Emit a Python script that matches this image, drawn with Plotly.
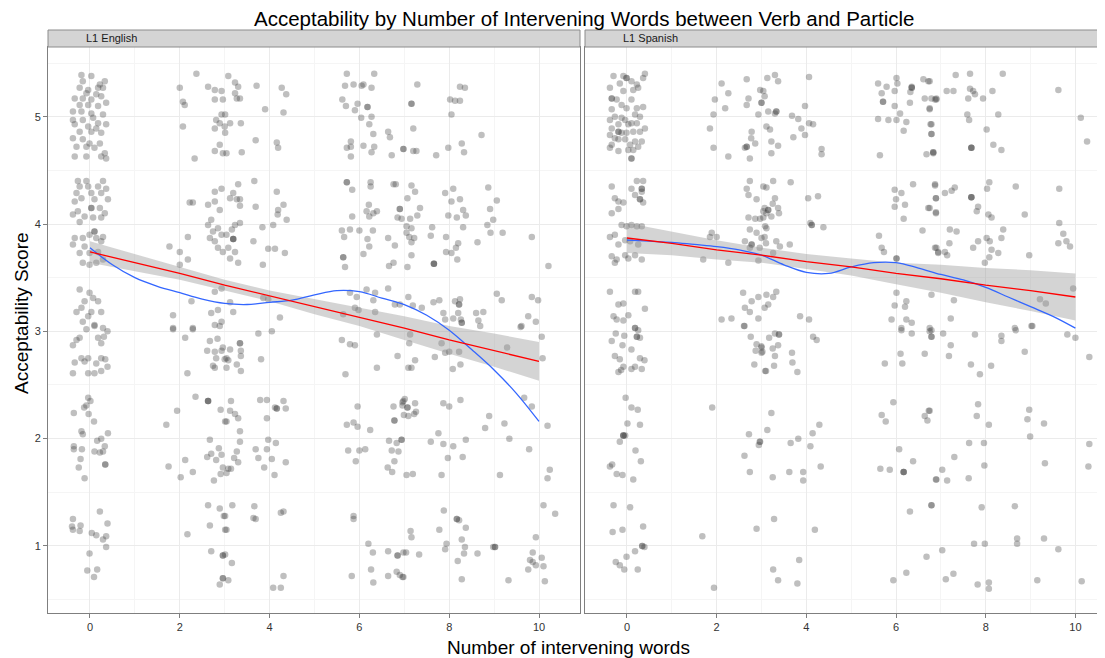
import plotly.graph_objects as go

# ---------------- data ----------------
eng_points = [
 (-0.19,5.39),(0.03,5.38),(-0.16,5.33),(0.33,5.33),(0.22,5.30),(-0.23,5.27),(-0.04,5.25),(0.18,5.27),(0.29,5.27),
 (-0.08,5.22),(0.14,5.21),(-0.34,5.17),(-0.16,5.17),(0.25,5.19),(0.03,5.16),(0.36,5.13),(-0.23,5.11),(-0.04,5.11),
 (0.18,5.10),(-0.38,5.05),(-0.19,5.05),(0.03,5.03),(0.29,5.02),(-0.38,4.97),(-0.16,4.97),(0.07,4.99),(0.18,4.94),
 (0.36,4.93),(-0.34,4.93),(-0.04,4.91),(0.14,4.89),(-0.23,4.86),(0.03,4.86),(0.25,4.85),(-0.38,4.80),(-0.16,4.79),
 (-0.01,4.75),(0.22,4.75),(-0.30,4.72),(-0.08,4.72),(0.10,4.71),(0.33,4.66),(-0.34,4.63),(-0.08,4.63),(0.25,4.63),(0.36,4.61),
 (-0.23,3.39),(-0.01,3.36),(0.07,3.31),(-0.12,3.28),(0.18,3.28),(-0.19,3.22),(0.03,3.18),(0.25,3.18),(-0.30,3.18),
 (-0.04,3.14),(-0.16,3.09),(0.10,3.06),(0.29,3.03),
 (-0.08,3.02),(0.10,3.05),(0.39,3.00),(-0.23,2.94),(-0.30,2.92),(0.18,2.94),(0.31,2.95),(-0.38,2.87),(0.25,2.89),
 (-0.19,2.75),(-0.04,2.75),(-0.12,2.72),(-0.34,2.71),(0.14,2.70),(0.25,2.75),(0.34,2.74),(0.39,2.67),(-0.38,2.61),
 (-0.04,2.61),(0.10,2.61),(0.25,2.63),
 (-0.04,2.38),(0.01,2.35),(-0.13,2.29),(-0.08,2.31),(-0.36,2.24),(-0.03,2.23),(0.09,2.16),(-0.19,2.07),(-0.16,2.04),
 (0.40,2.05),(0.25,2.00),(0.16,1.98),(-0.36,1.93),(-0.36,1.90),(-0.18,1.90),(0.10,1.88),(0.22,1.87),(0.33,1.93),
 (0.29,1.88),(-0.21,1.81),(0.34,1.76),(0.34,1.76),(-0.25,1.73),(-0.12,1.63),
 (0.22,1.32),(-0.38,1.25),(-0.40,1.18),(-0.21,1.19),(-0.38,1.15),(-0.23,1.14),(0.04,1.12),(0.14,1.10),(0.39,1.21),
 (0.36,1.09),(0.29,1.06),(0.36,0.99),(-0.01,0.93),(-0.06,0.77),(0.16,0.78),(0.09,0.71),
 (-0.27,4.40),(-0.08,4.40),(0.29,4.40),(-0.23,4.35),(-0.04,4.35),(0.18,4.35),(0.36,4.33),(-0.30,4.29),(0.03,4.29),
 (0.25,4.29),(-0.19,4.24),(0.40,4.23),(-0.34,4.21),(0.10,4.23),(0.03,4.15),(0.03,4.15),(0.22,4.15),(-0.27,4.12),
 (0.33,4.10),(-0.38,4.09),(-0.12,4.07),(0.07,4.06),(0.25,4.06),(-0.23,4.02),(0.10,3.93),(0.10,3.93),(-0.01,3.90),
 (0.29,3.88),(-0.34,3.87),(-0.16,3.87),(0.14,3.87),(-0.38,3.81),(-0.12,3.79),(0.25,3.84),(-0.23,3.73),(-0.01,3.73),
 (0.18,3.74),(0.29,3.67),(-0.16,3.64),(0.14,3.64),(-0.01,3.62),
 (2.37,5.40),(2.00,5.27),(2.63,5.28),(2.78,5.25),(2.93,5.24),(2.07,5.14),(2.11,5.11),(2.78,5.16),(2.96,5.16),
 (2.93,5.02),(2.81,4.97),(2.89,4.94),(2.07,4.91),(2.78,4.89),(3.00,4.91),(2.89,4.74),(2.33,4.61),(2.78,4.68),
 (2.96,4.66),(2.93,4.33),(2.78,4.30),(2.29,4.20),(2.22,4.20),(2.63,4.18),(2.78,4.21),(2.89,4.13),(2.70,4.04),
 (2.63,3.99),(2.85,3.96),(2.74,3.93),(2.93,3.90),(2.67,3.87),(2.78,3.84),(2.18,3.88),(2.85,3.78),(2.96,3.74),
 (1.77,3.79),(2.00,3.74),(2.18,3.67),(2.00,3.62),(2.78,3.37),(2.93,3.40),(2.26,3.28),(2.85,3.20),(2.70,3.17),
 (1.85,3.15),(2.93,3.09),(2.78,3.06),(2.29,3.03),(1.85,3.03),
 (3.08,5.38),(3.23,5.32),(3.30,5.28),(3.71,5.29),(3.23,5.22),(3.34,5.17),(3.27,5.17),(4.27,5.27),(4.37,5.21),
 (3.90,5.07),(4.31,5.04),(3.01,5.02),(3.12,4.94),(3.36,4.94),(3.01,4.85),(3.69,4.78),(4.16,4.76),(4.19,4.71),
 (3.38,4.67),(3.04,4.66),(3.30,4.37),(3.66,4.40),(4.16,4.30),(3.19,4.29),(3.12,4.24),(3.27,4.23),(3.34,4.23),
 (3.34,4.17),(3.69,4.16),(4.31,4.18),(4.19,4.13),(4.18,4.09),(4.38,4.04),(3.34,4.01),(3.23,3.99),(3.16,3.95),
 (3.19,3.86),(3.19,3.86),(3.19,3.86),(3.84,3.97),(4.08,3.99),(3.04,3.90),(3.64,3.84),(3.97,3.77),(4.12,3.77),
 (4.34,3.73),(3.08,3.78),(3.23,3.74),(3.12,3.68),(3.30,3.64),(3.85,3.62),
 (5.72,5.40),(6.33,5.40),(5.68,5.29),(5.87,5.30),(6.05,5.29),(6.27,5.27),(6.09,5.30),(5.62,5.16),(5.70,5.10),
 (5.96,5.12),(6.18,5.09),(6.18,5.09),(5.90,5.06),(6.04,4.99),(6.27,5.00),(6.22,4.93),(6.31,4.84),(6.64,4.86),
 (6.68,4.81),(5.81,4.77),(5.72,4.71),(5.81,4.72),(6.09,4.73),(6.33,4.72),(6.27,4.67),(5.81,4.63),(6.72,4.64),
 (6.98,4.70),(5.72,4.39),(5.72,4.39),(5.84,4.32),(6.25,4.39),(6.25,4.35),(6.76,4.37),(6.81,4.37),(6.21,4.18),
 (6.16,4.12),(6.31,4.10),(6.39,4.12),(6.22,4.07),(5.84,4.07),(6.90,4.14),(6.85,4.06),(5.61,3.94),(5.79,3.95),
 (6.00,3.94),(6.30,3.94),(5.66,3.88),(6.18,3.86),(6.22,3.79),(6.64,3.87),(6.79,3.80),(5.64,3.69),(5.64,3.69),
 (6.09,3.72),(5.68,3.60),(6.66,3.61),(6.76,3.64),
 (5.79,3.36),(6.16,3.39),(6.35,3.36),(6.64,3.40),(5.94,3.32),(6.31,3.29),(5.90,3.22),(5.98,3.20),(6.35,3.18),
 (6.79,3.25),(6.90,3.25),(5.64,3.16),(4.23,3.13),(3.86,3.31),(3.97,3.30),(3.19,3.18),(3.12,3.27),
 (7.29,5.30),(8.24,5.28),(8.35,5.27),(7.16,5.12),(7.16,5.12),(8.02,5.16),(8.13,5.15),(8.24,5.15),(8.05,5.02),
 (7.20,4.89),(8.72,4.83),(6.98,4.70),(7.20,4.68),(7.27,4.68),(7.71,4.64),(7.98,4.71),(8.28,4.75),(8.33,4.67),
 (7.16,4.36),(7.24,4.30),(7.91,4.29),(8.09,4.33),(8.87,4.34),(7.07,4.24),(8.05,4.21),(8.24,4.23),(9.06,4.22),
 (6.90,4.14),(7.35,4.15),(8.31,4.13),(8.91,4.14),(6.94,4.05),(7.13,4.05),(7.29,4.08),(7.98,4.08),(8.17,4.06),
 (8.37,4.08),(8.98,4.04),(7.05,3.98),(7.16,3.96),(7.62,3.97),(8.31,3.97),(8.85,3.99),(7.05,3.92),(7.22,3.87),
 (7.11,3.88),(7.16,3.83),(7.59,3.89),(7.93,3.88),(8.92,3.92),(9.19,3.92),(9.84,3.88),(8.63,3.83),(8.20,3.82),
 (8.15,3.78),(7.93,3.74),(8.05,3.73),(8.18,3.67),(7.16,3.71),(7.07,3.60),(7.66,3.63),(7.66,3.63),(7.66,3.63),(10.21,3.61),
 (7.09,3.32),(7.19,3.24),(7.39,3.22),(7.65,3.27),(7.78,3.29),(8.13,3.28),(8.24,3.30),(8.22,3.25),(8.22,3.25),
 (9.06,3.35),(9.17,3.29),(9.84,3.32),(9.98,3.29),(7.87,3.17),(8.20,3.17),(8.60,3.17),(8.76,3.18),(9.76,3.14),
 (9.93,3.09),(7.91,3.11),(8.09,3.12),(8.26,3.11),(8.28,3.08),(8.28,3.08),(8.65,3.10),(9.61,3.05),
 (1.85,3.02),(2.29,3.02),(2.89,3.05),(2.12,2.94),(2.67,2.91),(2.84,2.93),(2.61,2.82),(2.78,2.81),(2.96,2.85),
 (2.81,2.75),(3.00,2.74),(2.93,2.82),(2.74,2.68),(2.17,2.61),(2.78,2.66),
 (2.35,2.39),(2.63,2.35),(2.63,2.35),(2.63,2.35),(1.94,2.26),(2.91,2.27),(1.70,2.13),(3.01,2.16),(2.67,1.99),
 (2.87,1.91),(2.61,1.83),(2.70,1.86),(2.81,1.80),(2.93,1.85),(2.12,1.80),(1.75,1.74),(2.29,1.69),(2.02,1.64),
 (2.96,1.73),(2.91,1.67),(2.76,1.61),
 (2.63,1.38),(2.89,1.35),(2.98,1.28),(2.67,1.19),(3.01,1.15),(2.17,1.11),(2.70,0.95),(2.96,0.91),(2.96,0.91),
 (2.96,0.70),(2.96,0.70),(2.89,0.64),
 (3.75,2.98),(4.05,3.00),(3.34,2.89),(3.34,2.89),(3.12,2.83),(3.36,2.82),(3.36,2.77),(3.04,2.75),(3.08,2.73),
 (3.81,2.74),(3.27,2.69),(3.36,2.63),(3.04,2.66),(5.61,2.92),(5.79,2.88),(5.90,2.87),(6.39,2.97),(5.69,2.60),
 (6.39,2.66),(6.85,2.77),
 (3.14,2.35),(3.79,2.36),(3.94,2.36),(4.12,2.29),(4.16,2.28),(4.16,2.28),(4.31,2.35),(4.36,2.28),(3.12,2.26),
 (3.23,2.23),(3.30,2.19),(3.04,2.16),(3.94,2.19),(3.34,2.07),(3.34,1.97),(3.97,1.99),(4.14,1.96),(3.69,1.90),
 (3.94,1.90),(3.27,1.88),(3.75,1.82),(3.21,1.82),(3.30,1.78),(4.05,1.81),(4.36,1.78),(3.08,1.72),(3.14,1.72),
 (3.04,1.68),(3.88,1.73),(4.11,1.66),
 (5.96,2.30),(6.76,2.30),(6.78,2.17),(6.78,2.17),(6.98,2.35),(6.96,2.31),(5.87,2.15),(5.72,2.13),(5.96,2.11),
 (6.24,2.08),(6.66,1.98),(6.83,1.96),(6.94,1.99),(5.75,1.89),(5.92,1.79),(6.00,1.89),(6.13,1.90),(6.72,1.89),
 (6.87,1.88),(6.78,1.79),(6.63,1.73),(6.73,1.69),
 (3.17,1.38),(3.01,1.28),(3.66,1.37),(3.64,1.26),(3.69,1.25),(4.25,1.31),(4.31,1.32),(3.04,1.15),(5.87,1.28),
 (5.87,1.25),(6.20,1.02),(6.30,0.94),(6.64,0.95),(6.85,0.91),(6.85,0.91),(6.98,0.94),(3.01,0.92),(3.16,0.84),
 (6.26,0.78),(6.64,0.72),(6.83,0.76),(6.90,0.73),(6.98,0.71),(5.83,0.72),(6.31,0.66),(4.31,0.72),(4.08,0.61),
 (4.25,0.61),(3.08,0.68),
 (7.13,2.97),(7.11,2.89),(7.24,2.73),(7.09,2.66),(7.16,2.66),(7.68,2.76),(7.83,2.89),(7.91,2.80),(8.00,2.81),
 (8.22,2.81),(8.25,2.69),(8.08,2.65),(8.69,3.05),(9.59,3.04),(9.29,2.85),(10.06,2.95),(10.08,2.75),
 (7.01,2.37),(6.96,2.34),(7.07,2.29),(7.07,2.29),(7.24,2.33),(7.26,2.25),(7.22,2.23),(6.99,2.22),(7.09,2.21),
 (7.87,2.33),(8.00,2.30),(8.25,2.36),(9.67,2.38),(9.84,2.30),(8.89,2.21),(9.23,2.14),(8.80,2.10),(10.19,2.12),
 (6.94,1.99),(7.59,1.97),(7.87,1.95),(8.09,1.93),(8.37,1.99),(7.76,2.05),(9.34,2.00),(9.78,1.90),(7.97,1.82),
 (8.30,1.83),(7.05,1.66),(7.19,1.67),(7.83,1.66),(9.13,1.66),(10.24,1.71),(10.19,1.63),
 (10.10,1.38),(10.36,1.30),(7.88,1.33),(8.17,1.25),(8.17,1.25),(8.22,1.24),(8.37,1.17),(7.78,1.15),(7.14,1.14),
 (7.16,1.08),(7.94,1.02),(7.91,0.97),(8.28,1.06),(8.35,0.99),(8.33,0.93),(8.63,0.93),(8.98,0.99),(9.02,0.99),
 (9.02,0.99),(7.04,0.94),(7.33,0.92),(8.19,0.86),(9.93,1.08),(9.86,0.94),(9.80,0.87),(9.86,0.85),(9.93,0.82),
 (9.76,0.78),(10.06,0.89),(10.10,0.81),(8.28,0.69),(9.32,0.68),(10.13,0.67),(6.96,0.71),
]

spa_points = [
 (-0.30,5.38),(-0.08,5.38),(-0.01,5.36),(-0.01,5.36),(0.40,5.40),(0.36,5.36),(0.10,5.33),(-0.16,5.31),(0.22,5.30),
 (0.25,5.27),(0.14,5.25),(-0.38,5.27),(-0.08,5.24),(-0.34,5.17),(-0.34,5.17),(-0.23,5.16),(0.10,5.16),(-0.12,5.11),
 (-0.01,5.08),(0.22,5.08),(0.36,5.09),(-0.34,5.07),(0.18,5.02),(-0.27,5.00),(0.29,5.00),(-0.12,4.99),(-0.04,4.97),
 (-0.38,4.97),(0.10,4.94),(-0.19,4.93),(0.03,4.93),(0.22,4.94),(0.40,4.89),(-0.34,4.89),(-0.19,4.86),(-0.19,4.86),
 (-0.12,4.85),(-0.01,4.85),(0.14,4.86),(0.29,4.86),(-0.38,4.83),(-0.27,4.80),(-0.19,4.79),(-0.04,4.79),(0.18,4.77),
 (0.33,4.77),(-0.34,4.74),(0.07,4.74),(0.25,4.72),(-0.38,4.71),(-0.19,4.68),(0.03,4.69),(0.14,4.69),(0.10,4.61),(0.10,4.61),
 (-0.34,4.35),(0.10,4.33),(0.22,4.40),(0.36,4.40),(0.33,4.33),(0.33,4.33),(0.18,4.27),(0.33,4.30),(-0.27,4.24),
 (0.29,4.23),(0.29,4.23),(-0.19,4.21),(-0.08,4.20),(0.36,4.20),(-0.19,4.14),(-0.34,4.10),(-0.12,3.99),(-0.01,3.98),
 (0.10,3.99),(0.22,3.98),(0.33,3.98),(-0.38,3.88),(-0.27,3.90),(-0.04,3.85),(0.07,3.84),(-0.19,3.81),(0.25,3.81),
 (-0.34,3.70),(-0.04,3.71),(0.18,3.71),(0.33,3.67),(-0.23,3.67),(-0.27,3.64),(0.03,3.68),
 (-0.38,3.37),(0.18,3.37),(0.25,3.37),(-0.19,3.25),(-0.08,3.26),(0.40,3.21),(-0.30,3.14),(0.03,3.15),(-0.23,3.11),
 (-0.08,3.10),(0.18,3.03),
 (0.18,3.03),(0.25,3.01),(-0.25,2.98),(-0.06,2.96),(0.22,2.95),(0.22,2.95),(0.29,2.94),(-0.34,2.91),(-0.10,2.87),
 (0.10,2.83),(-0.27,2.77),(-0.16,2.74),(0.29,2.75),(0.39,2.73),(-0.08,2.67),(0.18,2.67),(0.10,2.65),(0.33,2.65),
 (-0.19,2.62),(-0.13,2.64),
 (-0.03,2.38),(0.10,2.29),(0.24,2.27),(0.01,2.14),(0.29,2.13),(-0.08,2.03),(-0.08,2.03),(-0.08,2.03),(-0.04,2.03),
 (-0.16,1.97),(0.19,1.89),(0.31,1.79),(-0.38,1.74),(-0.33,1.76),(-0.23,1.67),(-0.10,1.66),(0.14,1.62),
 (-0.30,1.38),(0.07,1.36),(0.36,1.18),(-0.32,1.13),(-0.10,1.15),(0.34,1.00),(0.34,1.00),(0.39,0.99),(0.18,0.95),
 (-0.01,0.90),(-0.25,0.85),(-0.16,0.82),(-0.06,0.78),(0.24,0.78),
 (1.90,2.29),(1.68,1.09),(1.94,0.61),
 (2.61,3.05),(2.76,2.95),(2.89,2.88),(3.00,2.85),(2.87,2.82),(3.00,2.80),(2.84,2.69),(3.08,2.63),(2.72,2.04),
 (2.97,1.97),(2.94,1.94),(2.62,1.84),(2.74,1.69),(2.89,1.16),
 (2.11,5.31),(2.26,5.22),(2.67,5.35),(2.97,5.25),(2.71,5.17),(3.00,5.13),(2.67,5.11),(1.96,5.16),(2.19,5.08),
 (1.93,5.02),(2.93,5.02),(1.85,4.89),(2.78,4.86),(2.77,4.80),(2.86,4.75),(2.67,4.72),(2.67,4.72),(2.63,4.71),
 (1.93,4.71),(2.26,4.63),(2.74,4.61),
 (2.74,4.40),(3.04,4.35),(2.67,4.33),(2.71,4.27),(2.89,4.23),(3.04,4.12),(2.71,4.06),(2.86,4.05),(2.97,4.05),
 (3.08,3.98),(2.74,3.95),(2.89,3.92),(2.63,3.84),(2.78,3.81),(2.78,3.81),(2.74,3.78),(3.00,3.87),(1.89,3.92),
 (1.85,3.88),(2.00,3.88),(1.70,3.67),(2.26,3.64),(2.93,3.66),
 (2.59,3.36),(2.78,3.28),(2.93,3.32),(2.63,3.22),(2.74,3.18),(2.93,3.12),(2.11,3.11),(2.33,3.12),(2.62,3.05),
 (3.13,5.36),(3.30,5.39),(3.37,5.33),(4.06,5.37),(3.04,5.24),(3.07,5.19),(3.00,5.13),(3.15,5.05),(3.30,5.03),
 (3.33,5.05),(3.33,5.05),(3.97,5.10),(3.68,5.01),(3.82,4.98),(4.06,4.94),(4.15,4.93),(3.89,4.89),(3.97,4.83),
 (3.71,4.81),(3.11,4.91),(3.19,4.88),(3.22,4.77),(3.37,4.73),(3.22,4.66),(4.34,4.70),(4.34,4.65),
 (3.26,4.40),(3.11,4.34),(3.65,4.39),(3.30,4.24),(3.25,4.19),(3.07,4.15),(3.15,4.13),(3.15,4.13),(3.37,4.15),
 (3.11,4.10),(3.39,4.10),(3.22,4.07),(3.04,4.06),(4.04,4.24),(4.26,4.26),(4.09,4.01),(4.12,3.99),(4.12,3.99),
 (4.38,3.97),(3.11,3.96),(3.07,3.88),(3.10,3.82),(3.33,3.84),(3.41,3.79),(3.63,3.81),(2.96,3.78),(3.26,3.73),
 (5.60,5.31),(5.79,5.28),(6.01,5.36),(6.03,5.31),(6.35,5.28),(6.35,5.27),(6.35,5.27),(5.68,5.22),(5.97,5.24),
 (6.32,5.23),(6.61,5.35),(6.72,5.33),(5.71,5.14),(5.71,5.14),(6.64,5.17),(6.79,5.17),(6.90,5.16),(5.97,5.10),
 (6.09,5.03),(6.31,5.13),(6.75,5.07),(5.60,4.98),(5.83,4.97),(6.01,4.97),(6.23,4.95),(6.17,4.87),(6.77,4.93),
 (6.79,4.84),(5.64,4.64),(6.68,4.65),(6.83,4.67),(6.83,4.67),
 (5.97,4.32),(6.12,4.29),(6.00,4.23),(6.20,4.18),(5.97,4.16),(6.38,4.37),(6.87,4.37),(6.89,4.24),(6.72,4.15),
 (6.89,4.10),(6.17,4.05),(6.59,3.94),(5.62,3.89),(5.68,3.78),(5.73,3.74),(6.01,3.68),(6.01,3.68),(6.90,3.78),(6.94,3.73),
 (6.01,3.36),(6.23,3.28),(5.97,3.24),(6.20,3.23),(6.79,3.34),(5.90,3.11),(6.23,3.11),(6.35,3.08),(6.12,3.03),
 (3.11,3.34),(3.26,3.32),(3.33,3.37),(3.07,3.22),(3.15,3.25),(3.86,3.14),(4.06,3.11),(6.75,3.03),
 (7.33,5.39),(7.65,5.40),(8.38,5.40),(6.75,5.33),(7.13,5.24),(7.28,5.24),(7.65,5.26),(7.72,5.24),(7.76,5.21),
 (7.61,5.17),(7.94,5.17),(8.15,5.24),(9.62,5.25),(6.87,5.16),(6.90,5.17),(6.75,5.08),(6.79,4.93),(7.59,5.02),
 (7.63,4.97),(8.28,5.02),(8.02,4.88),(6.79,4.84),(6.83,4.66),(7.68,4.71),(7.68,4.71),(7.68,4.71),(8.17,4.74),
 (8.35,4.69),(10.12,4.99),(10.26,4.77),
 (6.87,4.36),(7.09,4.29),(7.24,4.31),(7.31,4.34),(6.89,4.24),(7.68,4.25),(7.68,4.25),(7.68,4.25),(8.08,4.39),
 (8.03,4.33),(8.67,4.35),(9.64,4.33),(6.75,4.15),(6.89,4.11),(7.83,4.16),(7.80,4.12),(8.06,4.09),(8.13,4.06),
 (8.87,4.09),(9.64,4.01),(7.20,3.95),(7.35,3.93),(8.39,3.95),(7.19,3.82),(6.87,3.78),(6.94,3.74),(7.09,3.74),
 (7.14,3.71),(7.72,3.78),(7.83,3.84),(8.02,3.87),(8.09,3.84),(8.35,3.87),(8.13,3.76),(8.28,3.73),(8.08,3.69),
 (7.98,3.64),(8.97,3.71),(9.73,3.91),(9.62,3.82),(9.80,3.84),(9.88,3.79),
 (9.95,3.40),(9.21,3.30),(9.34,3.26),(7.29,3.29),(7.22,3.12),(8.65,3.03),(9.02,3.05),
 (3.17,2.94),(3.30,2.98),(3.39,2.97),(3.39,2.97),(3.00,2.86),(3.02,2.81),(3.25,2.84),(3.37,2.87),(3.30,2.77),
 (3.68,2.80),(3.69,2.71),(3.28,2.68),(3.10,2.63),(3.80,2.62),(4.15,2.95),(4.23,2.92),(6.12,3.01),(6.35,2.98),
 (6.79,3.01),(6.79,2.95),(6.10,2.79),(6.14,2.70),(5.75,2.70),(6.64,2.79),
 (3.22,2.24),(3.13,2.08),(2.96,1.97),(3.65,1.96),(3.82,2.00),(4.14,2.05),(4.29,2.13),(4.09,1.93),(3.62,1.69),
 (3.93,1.69),(3.93,1.61),(4.32,1.74),(3.25,1.64),(5.94,2.34),(5.68,2.22),(5.77,2.16),(6.73,2.26),(6.64,2.21),
 (6.70,2.17),(6.07,1.90),(6.38,1.79),(5.65,1.72),(5.86,1.71),(6.17,1.69),(6.17,1.69),(6.17,1.69),(6.90,1.62),
 (3.28,1.25),(4.19,1.15),(3.84,0.87),(3.26,0.78),(3.37,0.68),(3.80,0.65),(6.31,1.32),(6.79,1.38),(6.68,0.90),
 (6.23,0.75),(5.94,0.68),
 (6.75,3.00),(6.79,2.95),(7.05,2.98),(7.76,2.97),(8.35,2.96),(8.35,2.91),(8.67,3.01),(9.04,3.05),(7.22,2.87),
 (7.18,2.77),(7.67,2.69),(7.87,2.60),(8.12,2.68),(8.87,2.81),(9.82,2.97),(10.00,2.94),(10.31,2.76),
 (7.83,2.32),(6.75,2.26),(7.80,2.21),(8.07,2.13),(8.97,2.27),(8.93,2.18),(9.30,2.14),(8.99,2.02),(7.63,1.96),
 (7.96,1.96),(7.30,1.83),(7.03,1.71),(6.89,1.62),(7.14,1.61),(7.62,1.63),(7.97,1.75),(9.32,1.77),(10.31,1.95),
 (10.29,1.74),
 (6.79,1.38),(7.91,1.36),(8.65,1.37),(8.70,1.07),(8.70,1.02),(9.30,1.07),(9.62,0.97),(7.74,1.02),(7.98,1.02),
 (7.03,0.96),(7.11,0.69),(7.28,0.74),(7.82,0.64),(8.07,0.66),(8.07,0.60),(9.15,0.68),(10.14,0.67),
]

# fitted lines
fit_x = [0, 1, 2, 3, 4, 5, 6, 7, 8, 9, 10]
eng_lm = [3.74, 3.64, 3.54, 3.43, 3.33, 3.23, 3.13, 3.03, 2.92, 2.82, 2.72]
eng_lm_hi = [3.84, 3.72, 3.60, 3.48, 3.38, 3.30, 3.22, 3.14, 3.05, 2.98, 2.90]
eng_lm_lo = [3.64, 3.56, 3.48, 3.38, 3.28, 3.16, 3.05, 2.92, 2.79, 2.67, 2.54]
spa_lm = [3.87, 3.82, 3.76, 3.71, 3.65, 3.60, 3.54, 3.49, 3.43, 3.38, 3.32]
spa_lm_hi = [4.01, 3.93, 3.85, 3.78, 3.72, 3.68, 3.64, 3.62, 3.59, 3.57, 3.54]
spa_lm_lo = [3.73, 3.71, 3.67, 3.64, 3.58, 3.52, 3.44, 3.36, 3.27, 3.19, 3.10]

loess_x = [0, 0.5, 1, 1.5, 2, 2.5, 3, 3.5, 4, 4.5, 5, 5.5, 6, 6.5, 7, 7.5, 8, 8.5, 9, 9.5, 10]
eng_loess = [3.78, 3.62, 3.50, 3.42, 3.36, 3.30, 3.26, 3.25, 3.27, 3.29, 3.34, 3.38, 3.37,
             3.31, 3.25, 3.15, 3.01, 2.83, 2.64, 2.42, 2.16]
spa_loess = [3.85, 3.84, 3.83, 3.81, 3.79, 3.76, 3.71, 3.62, 3.55, 3.54, 3.60, 3.64, 3.64,
             3.59, 3.53, 3.48, 3.41, 3.32, 3.23, 3.14, 3.03]

panels = ["L1 English", "L1 Spanish"]
x_ticks = [0, 2, 4, 6, 8, 10]
y_ticks = [1, 2, 3, 4, 5]

# ---------------- figure ----------------
OFF = 8                       # the page body has an 8px margin
W, H = 1105 - OFF, 658 - OFF
ML, MR, MT = 48 - OFF, 0, 47 - OFF
MB = H - (613 - OFF)
PW = W - ML - MR
PH = H - MT - MB

def px_x(p):
    """reference-screenshot x pixel -> paper coordinate"""
    return (p - OFF - ML) / PW

def px_y(p):
    """reference-screenshot y pixel -> paper coordinate"""
    return (H - MB - (p - OFF)) / PH

fig = go.Figure()

pt_color = "rgba(60,60,60,0.33)"
band_color = "rgba(153,153,153,0.42)"
FONT = "Liberation Sans, Arial, sans-serif"

for i, (pts, lm, hi, lo, lo_s) in enumerate([
        (eng_points, eng_lm, eng_lm_hi, eng_lm_lo, eng_loess),
        (spa_points, spa_lm, spa_lm_hi, spa_lm_lo, spa_loess)]):
    xa = "x" if i == 0 else "x2"
    ya = "y" if i == 0 else "y2"
    fig.add_trace(go.Scatter(x=[p[0] for p in pts], y=[p[1] for p in pts], mode="markers",
                             marker=dict(size=6.5, color=pt_color, line=dict(width=0)),
                             xaxis=xa, yaxis=ya, showlegend=False, hoverinfo="skip"))
    fig.add_trace(go.Scatter(x=fit_x + fit_x[::-1], y=hi + lo[::-1], fill="toself",
                             fillcolor=band_color, line=dict(width=0), mode="lines",
                             xaxis=xa, yaxis=ya, showlegend=False, hoverinfo="skip"))
    fig.add_trace(go.Scatter(x=loess_x, y=lo_s, mode="lines",
                             line=dict(color="#3366FF", width=1.3, shape="spline"),
                             xaxis=xa, yaxis=ya, showlegend=False, hoverinfo="skip"))
    fig.add_trace(go.Scatter(x=fit_x, y=lm, mode="lines",
                             line=dict(color="#FF0000", width=1.3),
                             xaxis=xa, yaxis=ya, showlegend=False, hoverinfo="skip"))

axis_common = dict(showline=True, linecolor="#7f7f7f", linewidth=1, mirror=True,
                   showgrid=True, gridcolor="#ebebeb", gridwidth=1, zeroline=False,
                   tickfont=dict(family=FONT, size=11, color="#333333"))

d1 = [px_x(48), px_x(580)]
d2 = [px_x(585), 1.0]

fig.update_layout(
    width=W, height=H, margin=dict(l=ML, r=MR, t=MT, b=MB),
    paper_bgcolor="white", plot_bgcolor="white",
    xaxis=dict(domain=d1, range=[-0.935, 10.913], tickvals=x_ticks, anchor="y",
               ticks="outside", ticklen=4, tickcolor="#7f7f7f",
               minor=dict(dtick=1, tick0=0, showgrid=True, gridcolor="#f5f5f5", ticks=""),
               **axis_common),
    xaxis2=dict(domain=d2, range=[-0.936, 10.66], tickvals=x_ticks, anchor="y2",
                ticks="outside", ticklen=4, tickcolor="#7f7f7f",
                minor=dict(dtick=1, tick0=0, showgrid=True, gridcolor="#f5f5f5", ticks=""),
                **axis_common),
    yaxis=dict(domain=[0, 1], range=[0.375, 5.65], tickvals=y_ticks, anchor="x",
               ticks="outside", ticklen=4, tickcolor="#7f7f7f",
               minor=dict(dtick=0.5, tick0=0, showgrid=True, gridcolor="#f5f5f5", ticks=""),
               **axis_common),
    yaxis2=dict(domain=[0, 1], range=[0.375, 5.65], tickvals=y_ticks, anchor="x2",
                matches="y", showticklabels=False, ticks="",
                minor=dict(dtick=0.5, tick0=0, showgrid=True, gridcolor="#f5f5f5", ticks=""),
                **axis_common),
)

# facet strips
for i, d in enumerate([d1, d2]):
    fig.add_shape(type="rect", xref="paper", yref="paper", x0=d[0], x1=d[1],
                  y0=1.0, y1=px_y(30), fillcolor="#d4d4d4", line=dict(color="#8c8c8c", width=1),
                  layer="above")
    left_px = 48 if i == 0 else 585
    fig.add_annotation(text=panels[i], xref="paper", yref="paper",
                       x=px_x(left_px + 36), y=(1.0 + px_y(30)) / 2, xanchor="left", yanchor="middle",
                       showarrow=False, font=dict(family=FONT, size=11, color="#1a1a1a"))

fig.add_annotation(text="Acceptability by Number of Intervening Words between Verb and Particle",
                   xref="paper", yref="paper", x=px_x(584), y=px_y(18), xanchor="center", yanchor="middle",
                   showarrow=False, font=dict(family=FONT, size=20.5, color="black"))
fig.add_annotation(text="Number of intervening words", xref="paper", yref="paper",
                   x=px_x(568), y=px_y(647), xanchor="center", yanchor="middle", showarrow=False,
                   font=dict(family=FONT, size=19, color="black"))
fig.add_annotation(text="Acceptability Score", xref="paper", yref="paper",
                   x=px_x(21), y=px_y(313), xanchor="center", yanchor="middle", showarrow=False, textangle=-90,
                   font=dict(family=FONT, size=19, color="black"))

fig.write_html("out.html")
